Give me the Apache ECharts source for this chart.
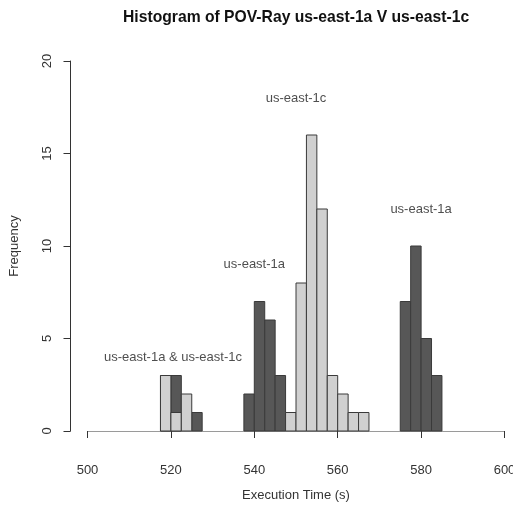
<!DOCTYPE html>
<html>
<head>
<meta charset="utf-8">
<style>
  html, body { margin: 0; padding: 0; background: #fff; }
  #main { width: 513px; height: 513px; }
</style>
<script src="https://cdn.jsdelivr.net/npm/echarts@6/dist/echarts.min.js"></script>
</head>
<body>
<div id="main"></div>
<script>
// bin start points (width 2.5 s)
var binWidth = 2.5;
var binStarts = [517.5, 520, 522.5, 525, 537.5, 540, 542.5, 545, 547.5, 550, 552.5, 555,
                 557.5, 560, 562.5, 565, 575, 577.5, 580, 582.5];
// frequencies per bin
var east1a = [3, 3, 0, 1, 2, 7, 6, 3, 0, 0, 0, 0, 0, 0, 0, 0, 7, 10, 5, 3];
var east1c = [3, 1, 2, 0, 0, 0, 0, 0, 1, 8, 16, 12, 3, 2, 1, 1, 0, 0, 0, 0];

var xTicks = [500, 520, 540, 560, 580, 600];
var yTicks = [0, 5, 10, 15, 20];

// labels placed in data coordinates
var notes = [
  { name: 'us-east-1c', value: [550, 18] },
  { name: 'us-east-1a', value: [540, 9] },
  { name: 'us-east-1a', value: [580, 12] },
  { name: 'us-east-1a & us-east-1c', value: [520.5, 4] }
];

var font = 'Liberation Sans, Arial, sans-serif';

function binData(counts) {
  return binStarts.map(function (s, i) { return [s, counts[i]]; });
}

function binRenderer(fill) {
  return function (params, api) {
    var x0 = api.value(0);
    var n = api.value(1);
    if (!n) return;
    var p0 = api.coord([x0, 0]);
    var p1 = api.coord([x0 + binWidth, n]);
    return {
      type: 'rect',
      shape: { x: p0[0], y: p1[1], width: p1[0] - p0[0], height: p0[1] - p1[1] },
      style: { fill: fill, stroke: '#3a3a3a', lineWidth: 1 }
    };
  };
}

var myChart = echarts.init(document.getElementById('main'));
var option = {
  backgroundColor: '#fff',
  animation: false,
  title: {
    text: 'Histogram of POV-Ray us-east-1a V us-east-1c',
    left: 118,
    top: 5,
    textStyle: { fontFamily: font, fontSize: 15.7, fontWeight: 'bold', color: '#111' }
  },
  grid: { left: 87.5, right: 8.5, top: 61, bottom: 82, outerBoundsMode: 'none', containLabel: false },
  xAxis: [
    {
      type: 'value',
      min: 500,
      max: 600,
      interval: 20,
      offset: 16,
      name: 'Execution Time (s)',
      nameLocation: 'middle',
      nameGap: 42,
      nameTextStyle: { fontFamily: font, fontSize: 13, color: '#333' },
      axisLine: { show: true, lineStyle: { color: '#333', width: 1 } },
      axisTick: { show: true, length: 7, lineStyle: { color: '#333' } },
      axisLabel: { fontFamily: font, fontSize: 13, color: '#333', margin: 17,
        hideOverlap: false, showMinLabel: true, showMaxLabel: true,
        formatter: function (v) { return xTicks.indexOf(v) >= 0 ? String(v) : ''; } },
      splitLine: { show: false }
    },
    {
      type: 'value',
      position: 'bottom',
      min: 500,
      max: 600,
      offset: 0,
      axisLine: { show: true, onZero: false, lineStyle: { color: '#9a9a9a', width: 1 } },
      axisTick: { show: false },
      axisLabel: { show: false },
      splitLine: { show: false }
    }
  ],
  yAxis: {
    type: 'value',
    min: 0,
    max: 20,
    interval: 5,
    offset: 17,
    name: 'Frequency',
    nameLocation: 'middle',
    nameGap: 50,
    nameRotate: 90,
    nameTextStyle: { fontFamily: font, fontSize: 13, color: '#333' },
    axisLine: { show: true, lineStyle: { color: '#333', width: 1 } },
    axisTick: { show: true, length: 7, lineStyle: { color: '#333' } },
    axisLabel: { fontFamily: font, fontSize: 13, color: '#333', rotate: 90, margin: 17,
      formatter: function (v) { return yTicks.indexOf(v) >= 0 ? String(v) : ''; } },
    splitLine: { show: false }
  },
  series: [
    {
      name: 'us-east-1a',
      type: 'custom',
      xAxisIndex: 0,
      renderItem: binRenderer('#575757'),
      data: binData(east1a)
    },
    {
      name: 'us-east-1c',
      type: 'custom',
      xAxisIndex: 0,
      renderItem: binRenderer('#d0d0d0'),
      data: binData(east1c)
    },
    {
      type: 'scatter',
      xAxisIndex: 0,
      symbolSize: 0,
      silent: true,
      label: {
        show: true,
        position: 'inside',
        formatter: '{b}',
        fontFamily: font,
        fontSize: 13,
        color: '#222'
      },
      data: notes
    }
  ]
};
myChart.setOption(option);
</script>
</body>
</html>
